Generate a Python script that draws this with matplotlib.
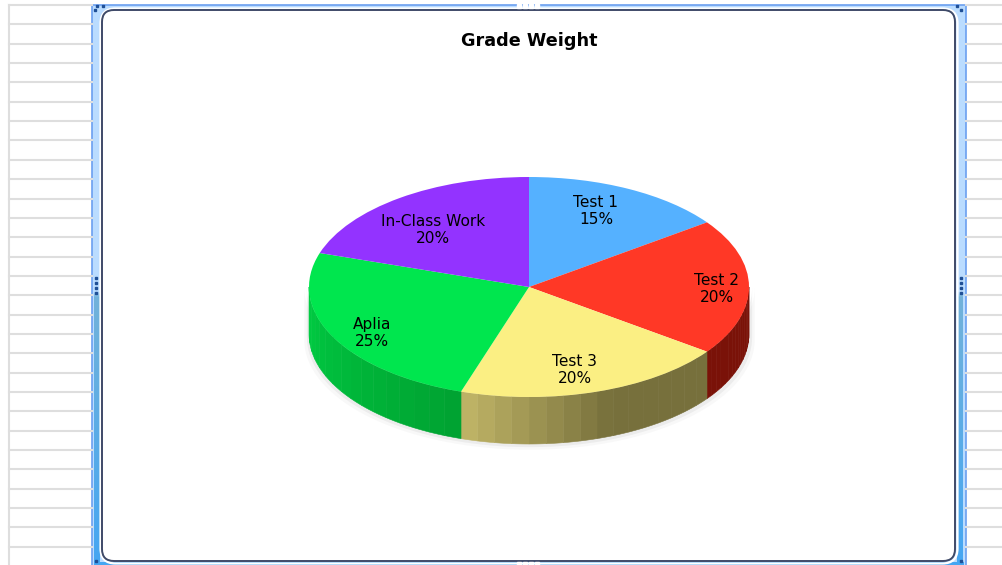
import numpy as np
import matplotlib.pyplot as plt
from matplotlib.colors import LinearSegmentedColormap, to_rgb
from matplotlib.patches import FancyBboxPatch, Rectangle, Polygon

labels = ['Test 1', 'Test 2', 'Test 3', 'Aplia', 'In-Class Work']
values = [15, 20, 20, 25, 20]
colors = ['#55b1ff', '#ff3826', '#fbef83', '#00e64e', '#9333ff']
wall_left = ['#2f6f9f', '#7a1208', '#bdb265', '#00cc42', '#6a24b4']
wall_right = ['#2f6f9f', '#7a1208', '#77703c', '#00a332', '#6a24b4']
wall_flat = [0, 0, 0.45, 0, 0]  # part of the wall that stays at the right colour
label_x = [596, 717, 575, 372, 433]
label_y = [211, 289, 370, 333, 230]
title = 'Grade Weight'

fig = plt.figure(figsize=(10.03, 5.65), dpi=100)

# page behind the chart
bg = fig.add_axes([0, 0, 1, 1])
bg.axis('off')

for y in np.arange(5, 565, 19.35):
    bg.plot([9, 92], [y, y], color='#dedede', lw=1.5)
    bg.plot([966, 1003], [y, y], color='#dedede', lw=1.5)
bg.plot([9, 9], [5, 565], color='#dedede', lw=1.5)

# window frame, pale above the handles and stronger below them
frame = LinearSegmentedColormap.from_list('frame', [(0, '#badcff'), (0.51, '#badcff'),
                                                    (0.52, '#72b2da'), (1, '#45a6f2')])
bg.add_patch(Rectangle((92, 5), 874, 565, fc='#badcff', ec='#6b9ff0', lw=1.2))
grad = np.linspace(0, 1, 256).reshape(-1, 1)
bg.imshow(grad, cmap=frame, extent=(94.5, 100, 565, 6), aspect='auto', zorder=2)
bg.imshow(grad, cmap=frame, extent=(957, 963, 565, 6), aspect='auto', zorder=2)
bg.add_patch(Rectangle((94, 562), 870, 3, fc='#45a6f2', ec='none', zorder=2))
bg.set_xlim(0, 1003)
bg.set_ylim(565, 0)
bg.add_patch(FancyBboxPatch((100.5, 8.5), 857, 555, boxstyle='round,pad=0,rounding_size=15',
                            fc='none', ec='white', lw=1.6, zorder=3))
bg.add_patch(FancyBboxPatch((102, 10), 853, 551, boxstyle='round,pad=0,rounding_size=12',
                            fc='white', ec='#3f4a68', lw=1.4, zorder=3))
for x, y in [(95, 10), (97, 6), (103, 6), (957, 6), (961, 10), (96, 561), (961, 561)]:
    bg.plot(x, y, 's', ms=2, color='#1f4f96', zorder=4)
for x in [519, 525, 531, 537]:
    bg.plot(x, 5.5, 's', ms=2.4, color='white', zorder=4)
    bg.plot(x, 564, 's', ms=2.4, color='white', zorder=4)
for y in [278, 283, 288, 293]:
    for x in [96, 961]:
        bg.plot(x, y, 's', ms=2, color='#1f4f96', zorder=4)

bg.text(529, 41, title, ha='center', va='center', fontsize=12.7, fontweight='bold', color='black', zorder=5)

# pie, one unit is 220 px across and 110 px down
ax = fig.add_axes([(309 - 22) / 1003, 1 - 457 / 565, 484 / 1003, 300 / 565])
ax.patch.set_alpha(0)
depth = 47 / 110

# soft shadow under the wall
t = np.linspace(np.pi / 2, 1.5 * np.pi, 80)
for grow, a in [(0.012, 0.10), (0.024, 0.05)]:
    ax.fill_between(np.sin(t) * (1 + grow), np.cos(t) - depth - grow * 2, np.cos(t),
                    color='#808080', alpha=a, lw=0)

edges = np.cumsum([0] + values) / sum(values) * 2 * np.pi
for i in range(len(values)):
    a0 = max(edges[i], np.pi / 2)
    a1 = min(edges[i + 1], 1.5 * np.pi)
    if a1 <= a0:
        continue
    cl = np.array(to_rgb(wall_left[i]))
    cr = np.array(to_rgb(wall_right[i]))
    steps = np.linspace(a0, a1, 17)
    for k in range(16):
        t = np.linspace(steps[k], steps[k + 1], 6)
        x, y = np.sin(t), np.cos(t)
        pts = np.r_[np.c_[x, y], np.c_[x[::-1], y[::-1] - depth]]
        f = np.clip((k / 15 - wall_flat[i]) / (1 - wall_flat[i]), 0, 1)
        col = cr * (1 - f) + cl * f
        ax.add_patch(Polygon(pts, fc=col, ec=col, lw=0.4))

ax.pie(values, colors=colors, startangle=90, counterclock=False, radius=1,
       wedgeprops={'linewidth': 0})
ax.set_aspect('auto')
ax.set_xlim(-1.1, 1.1)
ax.set_ylim(-170 / 110, 130 / 110)

# labels sit in page pixels
lab = fig.add_axes([0, 0, 1, 1])
lab.set_xlim(0, 1003)
lab.set_ylim(565, 0)
lab.axis('off')
lab.patch.set_alpha(0)
for name, v, x, y in zip(labels, values, label_x, label_y):
    lab.text(x, y, f'{name}\n{v}%', ha='center', va='center', fontsize=11.1, color='black', linespacing=1.2)

fig.savefig('out.png', dpi=100)
